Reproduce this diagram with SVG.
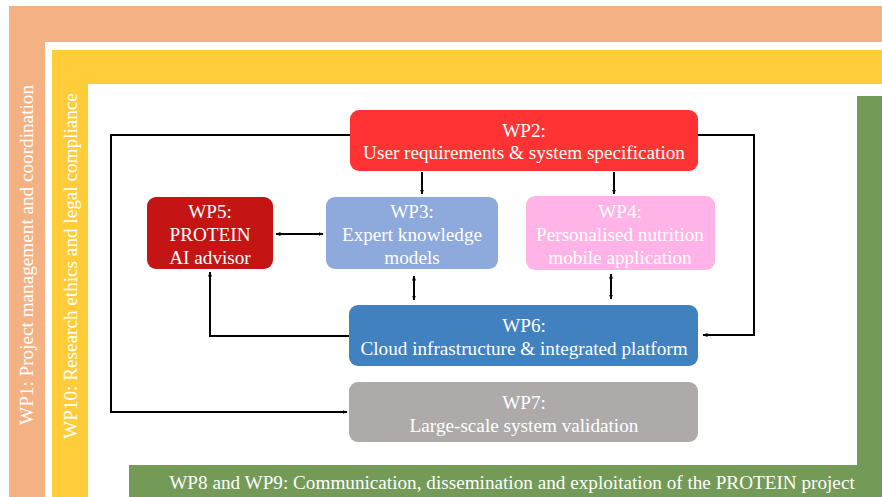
<svg xmlns="http://www.w3.org/2000/svg" width="882" height="497" viewBox="0 0 882 497">
<defs>
<marker id="ah" viewBox="0 0 10 10" refX="9" refY="5" markerWidth="5" markerHeight="5" orient="auto-start-reverse" markerUnits="userSpaceOnUse">
<path d="M0,1 L10,5 L0,9 z" fill="#000"/>
</marker>
<style>
text{font-family:"Liberation Serif","Times New Roman",serif;fill:#fff;font-size:19.2px;text-anchor:middle}
.c{fill:none;stroke:#000;stroke-width:2}
</style>
</defs>
<rect width="882" height="497" fill="#fff"/>
<g id="wp1">
<path d="M9,6 H882 V42 H45 V497 H9 Z" fill="#F4B183"/>
<text transform="translate(33,255) rotate(-90)">WP1: Project management and coordination</text>
</g>
<g id="wp10">
<path d="M52,50 H882 V84 H88 V497 H52 Z" fill="#FFCD3A"/>
<text transform="translate(77,266) rotate(-90)">WP10: Research ethics and legal compliance</text>
</g>
<g id="wp89">
<path d="M857,96 H882 V497 H129 V465 H857 Z" fill="#739A57"/>
<text x="512" y="489">WP8 and WP9: Communication, dissemination and exploitation of the PROTEIN project</text>
</g>
<g id="connectors">
<path class="c" d="M350,135 H111 V412 H347" marker-end="url(#ah)"/>
<path class="c" d="M698,135 H754 V335 H703" marker-end="url(#ah)"/>
<path class="c" d="M422,172 V194" marker-end="url(#ah)"/>
<path class="c" d="M614,172 V194" marker-end="url(#ah)"/>
<path class="c" d="M276,234 H323" marker-start="url(#ah)" marker-end="url(#ah)"/>
<path class="c" d="M414,276 V300" marker-start="url(#ah)" marker-end="url(#ah)"/>
<path class="c" d="M611,274 V299" marker-start="url(#ah)" marker-end="url(#ah)"/>
<path class="c" d="M349,336 H210 V272" marker-end="url(#ah)"/>
</g>
<g id="wp2">
<rect x="350" y="110" width="348" height="61" rx="9" fill="#FF3333"/>
<text x="524" y="137">WP2:</text>
<text x="524" y="159">User requirements &amp; system specification</text>
</g>
<g id="wp5">
<rect x="147" y="197" width="126" height="72" rx="9" fill="#C41414"/>
<text x="210" y="218">WP5:</text>
<text x="210" y="241">PROTEIN</text>
<text x="210" y="264">AI advisor</text>
</g>
<g id="wp3">
<rect x="326" y="197" width="172" height="72" rx="9" fill="#8EA9DB"/>
<text x="412" y="218">WP3:</text>
<text x="412" y="241">Expert knowledge</text>
<text x="412" y="264">models</text>
</g>
<g id="wp4">
<rect x="526" y="196" width="189" height="74" rx="9" fill="#FFB3E6"/>
<text x="620" y="218">WP4:</text>
<text x="620" y="241">Personalised nutrition</text>
<text x="620" y="264">mobile application</text>
</g>
<g id="wp6">
<rect x="349" y="305" width="349" height="61" rx="9" fill="#4281BF"/>
<text x="524" y="332">WP6:</text>
<text x="524" y="355">Cloud infrastructure &amp; integrated platform</text>
</g>
<g id="wp7">
<rect x="349" y="382" width="349" height="60" rx="9" fill="#AEAAAA"/>
<text x="524" y="409">WP7:</text>
<text x="524" y="432">Large-scale system validation</text>
</g>
</svg>
